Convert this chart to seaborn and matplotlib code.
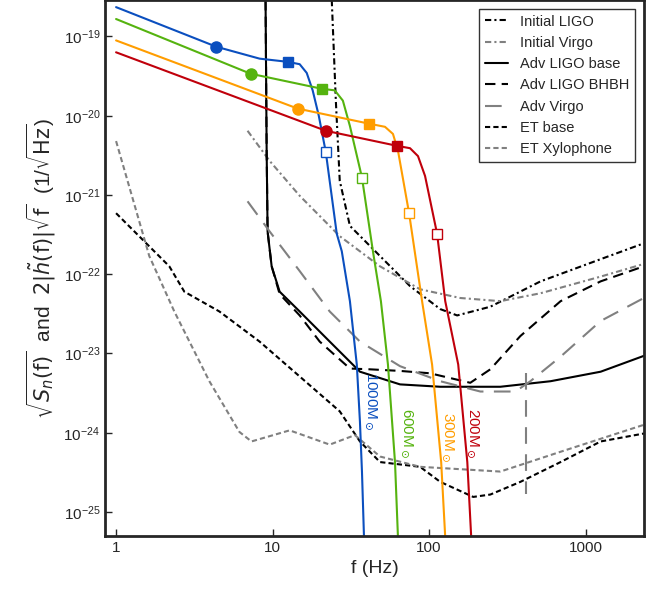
import numpy as np
import seaborn as sns
import matplotlib.pyplot as plt

sns.set_theme(style="ticks")
plt.rcParams["font.family"] = ["Liberation Sans", "DejaVu Sans"]

# detector noise curves, log10(f) and log10(sqrt(Sn))
ini_ligo_lf = [1.378, 1.404, 1.429, 1.494, 1.686, 1.878, 2.071, 2.179, 2.391, 2.712, 3.096, 3.372]
ini_ligo_lh = [-18.54, -19.81, -20.82, -21.39, -21.77, -22.15, -22.44, -22.52, -22.41, -22.09, -21.81, -21.61]
ini_virgo_lf = [0.84, 0.981, 1.173, 1.429, 1.686, 1.942, 2.199, 2.455, 2.712, 3.096, 3.372]
ini_virgo_lh = [-20.19, -20.57, -21.01, -21.52, -21.90, -22.19, -22.30, -22.34, -22.24, -22.03, -21.87]
adv_base_lf = [0.955, 0.962, 0.968, 0.994, 1.045, 1.173, 1.365, 1.558, 1.814, 2.071, 2.455, 2.776, 3.096, 3.372]
adv_base_lh = [-18.54, -20.44, -21.46, -21.90, -22.22, -22.47, -22.85, -23.23, -23.39, -23.42, -23.42, -23.35, -23.23, -23.03]
adv_bhbh_lf = [0.955, 0.962, 0.968, 0.994, 1.045, 1.173, 1.301, 1.494, 1.622, 1.814, 2.006, 2.263, 2.391, 2.583, 2.84, 3.096, 3.372]
adv_bhbh_lh = [-18.54, -20.44, -21.46, -21.90, -22.25, -22.52, -22.85, -23.19, -23.20, -23.22, -23.25, -23.37, -23.20, -22.78, -22.34, -22.09, -21.90]
adv_virgo_lf = [0.84, 0.981, 1.173, 1.365, 1.558, 1.814, 2.071, 2.327, 2.551, 2.647, 2.84, 3.096, 3.372]
adv_virgo_lh = [-21.08, -21.46, -21.96, -22.47, -22.85, -23.16, -23.35, -23.48, -23.48, -23.35, -23.04, -22.59, -22.30]
adv_virgo_spike_lf = [2.622, 2.622]
adv_virgo_spike_lh = [-23.25, -24.77]
et_base_lf = [0.0, 0.34, 0.436, 0.66, 0.917, 1.173, 1.429, 1.558, 1.686, 1.942, 2.071, 2.282, 2.391, 2.583, 2.84, 3.096, 3.372]
et_base_lh = [-21.23, -21.90, -22.22, -22.47, -22.85, -23.29, -23.73, -24.11, -24.37, -24.43, -24.62, -24.81, -24.78, -24.62, -24.37, -24.11, -24.01]
et_xylo_lf = [0.0, 0.212, 0.372, 0.596, 0.788, 0.865, 1.109, 1.365, 1.526, 1.686, 1.942, 2.455, 2.84, 3.372]
et_xylo_lh = [-20.32, -21.77, -22.47, -23.35, -23.99, -24.11, -23.97, -24.15, -24.03, -24.30, -24.43, -24.49, -24.24, -23.90]

# signal curves 2|h(f)|sqrt(f)
masses = ["1000", "600", "300", "200"]
colors = ["#0b4fbf", "#55b30f", "#ff9d00", "#c0000b"]
sig_lf = [
    [0.0, 0.641, 0.917, 1.096, 1.173, 1.218, 1.256, 1.295, 1.34, 1.41, 1.442, 1.494, 1.538, 1.558, 1.571, 1.584],
    [0.0, 0.859, 1.314, 1.397, 1.449, 1.494, 1.571, 1.641, 1.692, 1.737, 1.782, 1.801],
    [0.0, 1.16, 1.615, 1.718, 1.769, 1.801, 1.872, 1.955, 2.019, 2.077, 2.103],
    [0.0, 1.34, 1.795, 1.878, 1.929, 1.974, 2.051, 2.103, 2.186, 2.244, 2.269],
]
sig_lh = [
    [-18.63, -19.13, -19.28, -19.32, -19.35, -19.46, -19.68, -20.0, -20.46, -21.49, -21.71, -22.34, -23.14, -23.86, -24.49, -25.32],
    [-18.78, -19.47, -19.66, -19.68, -19.81, -20.13, -20.78, -21.71, -22.34, -23.14, -24.37, -25.32],
    [-19.05, -19.91, -20.10, -20.14, -20.23, -20.44, -21.23, -22.34, -23.14, -24.37, -25.32],
    [-19.20, -20.19, -20.38, -20.41, -20.51, -20.76, -21.49, -22.34, -23.14, -24.37, -25.32],
]
# marker indices: circle, filled square, open square
mark_idx = [(1, 3, 8), (1, 2, 6), (1, 2, 6), (1, 2, 6)]
label_pos = [(1.63, -23.6), (1.86, -24.0), (2.12, -24.05), (2.28, -24.0)]

fig, ax = plt.subplots(figsize=(6.57, 5.92), dpi=100)

def draw(lf, lh, **kw):
    ax.plot(10 ** np.array(lf), 10 ** np.array(lh), lw=1.5, **kw)

draw(ini_ligo_lf, ini_ligo_lh, color="black", ls=(0, (3, 1.5, 1, 1.5)), label="Initial LIGO")
draw(ini_virgo_lf, ini_virgo_lh, color="gray", ls=(0, (3, 1.5, 1, 1.5)), label="Initial Virgo")
draw(adv_base_lf, adv_base_lh, color="black", label="Adv LIGO base")
draw(adv_bhbh_lf, adv_bhbh_lh, color="black", ls=(0, (5, 3)), label="Adv LIGO BHBH")
draw(adv_virgo_lf, adv_virgo_lh, color="gray", ls=(0, (8, 5)), label="Adv Virgo")
draw(adv_virgo_spike_lf, adv_virgo_spike_lh, color="gray", ls=(0, (8, 5)))
draw(et_base_lf, et_base_lh, color="black", ls=(0, (2.5, 1.5)), label="ET base")
draw(et_xylo_lf, et_xylo_lh, color="gray", ls=(0, (2.5, 1.5)), label="ET Xylophone")

for m, c, lf, lh, idx, pos in zip(masses, colors, sig_lf, sig_lh, mark_idx, label_pos):
    f = 10 ** np.array(lf)
    h = 10 ** np.array(lh)
    ax.plot(f, h, color=c, lw=1.5)
    ax.plot(f[idx[0]], h[idx[0]], "o", color=c, ms=8)
    ax.plot(f[idx[1]], h[idx[1]], "s", color=c, ms=7)
    ax.plot(f[idx[2]], h[idx[2]], "s", mfc="white", mec=c, mew=1, ms=7)
    ax.text(10 ** pos[0], 10 ** pos[1], m + r"M$_\odot$", color=c, rotation=-90,
            ha="center", va="center", fontsize=11)

ax.set_xscale("log")
ax.set_yscale("log")
ax.set_xlim(10 ** -0.07, 10 ** 3.372)
ax.set_ylim(10 ** -25.3, 10 ** -18.54)
ax.set_xticks([1, 10, 100, 1000])
ax.set_xticklabels(["1", "10", "100", "1000"])
ax.set_yticks([10.0 ** k for k in range(-25, -18)])
ax.minorticks_off()
ax.tick_params(direction="in", labelsize=11, width=1, length=5)
for s in ax.spines.values():
    s.set_linewidth(2)
ax.set_xlabel("f (Hz)", fontsize=14)
ax.set_ylabel(r"$\sqrt{S_n(\mathrm{f})}$  and  $2|\tilde{h}(\mathrm{f})|\sqrt{\mathrm{f}}$  (1/$\sqrt{\mathrm{Hz}}$)", fontsize=15)
leg = ax.legend(loc="upper right", fontsize=10.5, frameon=True, fancybox=False,
                handlelength=1.6, borderaxespad=0.6)
leg.get_frame().set_edgecolor("black")
leg.get_frame().set_linewidth(1)

plt.subplots_adjust(left=0.16, right=0.98, top=1.0, bottom=0.095)
plt.savefig("out.png", dpi=100)
